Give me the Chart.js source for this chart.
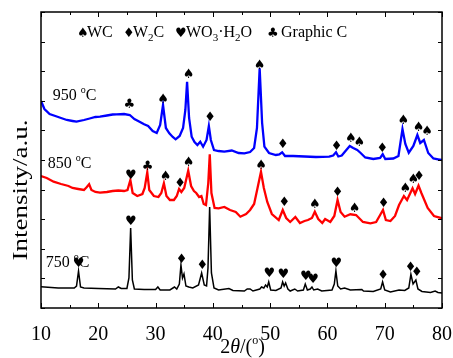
<!DOCTYPE html>
<html lang="en">
<head>
<meta charset="UTF-8">
<title>XRD patterns</title>
<script src="https://cdn.jsdelivr.net/npm/chart.js"></script>
<style>
  html, body { margin: 0; padding: 0; background: #fff; }
  canvas { display: block; }
</style>
</head>
<body>
<canvas id="xrd" width="453" height="358"></canvas>
<script>
// 2θ positions (deg) and stacked intensities (a.u.) for each calcination temperature
const theta750 = [10, 13, 15.8, 16.2, 16.55, 16.9, 17.5, 20, 23, 23.5, 24, 25, 25.35, 25.65, 25.95, 26.3, 28, 30, 30.4, 30.8,
  32.5, 33.3, 33.7, 34.15, 34.43, 34.7, 34.96, 35.3, 35.8, 36.5, 37.5, 38.04, 38.5, 38.9, 39.15, 39.44, 39.75, 40.2, 41, 42.8,
  43.5, 45.5, 46, 46.5, 47, 48.2, 48.5, 48.9, 49.2, 49.5, 49.75, 50.1, 51, 51.9, 52.18, 52.45, 52.7, 53.1, 53.5, 54.3,
  54.8, 55.8, 56.13, 56.5, 57, 57.3, 57.6, 58.3, 59, 60.8, 61.2, 61.48, 61.8, 62.3, 63, 64, 66, 66.3, 68, 69.3,
  69.63, 70, 71, 72.5, 73.5, 74.2, 74.57, 74.95, 75.44, 75.8, 76.5, 78, 78.8, 79.3, 80];
const int750 = [21.3, 20, 20, 22, 37, 21, 20, 19.5, 19, 21, 19.5, 19.5, 30, 80, 28, 19, 18.5, 18.5, 21, 18,
  18, 21, 19, 24, 43, 30, 34, 22, 21, 20, 23, 35, 23, 22, 40, 101, 35, 20, 18, 19.5,
  17.5, 17, 19, 19, 17, 19, 21, 20, 23, 21, 26, 18, 17.5, 20, 26, 22, 25, 19, 17, 19,
  17, 18, 24, 18, 19, 21, 18, 19, 17, 18, 24, 37, 22, 19, 20, 18, 18.5, 17, 16.5, 19,
  26, 18, 16, 18, 17.5, 20, 33.7, 24, 28, 19, 16.5, 15.5, 17, 15.5, 15];

const theta850 = [10, 11, 12.2, 13.5, 14.8, 15.5, 16.5, 17.5, 18, 18.4, 18.8, 19.5, 20.3, 21.5, 22.5, 23.5, 24.5, 25.1, 25.6, 26,
  26.8, 27.7, 28.1, 28.55, 28.9, 29.7, 30.5, 31, 31.45, 31.9, 32.5, 33.2, 33.7, 34.1, 34.5, 35, 35.7, 36.2, 36.7, 37.1,
  37.6, 38, 38.4, 38.8, 39.2, 39.46, 39.75, 40.3, 41, 42, 43, 44, 44.8, 45.8, 46.5, 47.2, 47.8, 48.4, 48.9, 49.5,
  50.3, 51.5, 52.2, 52.8, 53.5, 54.4, 55.2, 56, 56.6, 57.3, 57.8, 58.4, 59.1, 59.6, 60.5, 61.2, 61.77, 62.3, 63, 64,
  65, 66.2, 67.5, 68.5, 69.2, 69.7, 70.2, 71, 71.8, 72.5, 73.35, 73.9, 74.86, 75.3, 75.9, 76.4, 77.5, 78.6, 80];
const int850 = [132, 130, 126.3, 124, 122, 120, 119, 118, 121, 123.7, 118, 116, 115.3, 116, 117, 117.5, 117, 118, 128, 115,
  112, 114, 120, 135.7, 118, 112, 111, 115, 124.7, 112, 108, 108, 112, 119, 116, 120, 137.3, 122, 117, 115,
  111, 112, 104, 103, 125, 153.7, 115, 100, 99.7, 101, 98, 96, 91.3, 94, 98, 104, 120, 136.3, 120, 106,
  94, 88, 98, 90, 86, 91, 85, 87, 88, 90, 96.3, 89, 85, 89, 86, 92, 108, 96, 91.3, 93.7,
  93, 86, 84.7, 86, 93, 98, 88, 87, 92, 103, 112, 108, 119.7, 114, 122.3, 115, 100, 92, 89.7];

const theta950 = [10, 10.6, 11.5, 12.5, 13.5, 14.5, 15.5, 16.2, 17.5, 18.5, 19.5, 20.3, 21.5, 22.5, 23.2, 24.5, 25.5, 26.3, 27.2, 28,
  28.7, 29.5, 30.2, 30.8, 31.3, 31.8, 32.4, 33, 33.5, 34.2, 34.8, 35.2, 35.5, 35.85, 36.3, 36.8, 37.3, 37.8, 38.3, 38.9,
  39.3, 39.65, 40.2, 41, 42, 43.3, 44.5, 45.5, 46.5, 47.2, 47.7, 48.17, 48.6, 49, 49.8, 51, 51.6, 52.1, 52.6, 54,
  56, 58, 60.3, 61, 61.5, 61.9, 62.5, 63.3, 63.9, 64.5, 65.2, 65.8, 66.6, 68, 69.2, 69.65, 70.1, 71.5, 72.4, 73.1,
  73.6, 74.2, 75, 75.7, 76.2, 76.84, 77.6, 78.5, 79.3, 80];
const int950 = [207, 199, 194, 192, 190, 188, 187, 186.3, 188, 189.5, 191, 191.3, 192.5, 193.5, 193.7, 194, 193, 189, 186.3, 183.7,
  182, 177, 175, 183, 203, 180, 174.7, 171, 168.7, 172, 180, 198, 226.3, 190, 171.3, 166, 163, 166.3, 161.3, 168,
  182, 168, 158, 157, 156.3, 157.5, 155, 154.7, 156, 160, 180, 239.7, 185, 161.3, 155, 153, 153.5, 155.7, 152, 152,
  151.5, 151, 151.3, 152.5, 155.7, 151.5, 152.5, 158, 162, 160, 158, 155, 150.5, 149, 150, 153.7, 149, 149.5, 152, 179,
  164, 155.3, 162, 173, 165, 168, 155, 149.5, 148.7, 148];

// phase markers above the reflections: ♠ WC, ♦ W2C, ♥ WO3·H2O, ♣ graphitic carbon
const markTheta = [25.4, 31.3, 35.77, 39.5, 48.17, 52.2, 61.6, 64.1, 65.55, 69.6, 73.23, 75.9, 77.4,
  25.7, 28.6, 31.76, 34.26, 35.77, 48.4, 52.46, 57.8, 61.77, 64.74, 69.8, 73.6, 74.98, 76.0,
  16.58, 25.7, 34.55, 38.15, 49.85, 52.3, 56.25, 57.5, 61.55, 69.7, 74.5, 75.6];
const markInt = [203, 208.7, 233, 190.3, 242, 163, 161.3, 169, 165.7, 159, 187, 180.7, 176.3,
  132, 141.3, 131.3, 124, 145.7, 142, 105.7, 103, 115.3, 99.7, 104, 119, 128.7, 131.3,
  44.7, 86.3, 48.7, 42, 34, 33, 31.3, 28, 44, 32, 40.3, 35.7];
const markSym = ['♣', '♠', '♠', '♦', '♠', '♦', '♦', '♠', '♠', '♦', '♠', '♠', '♠',
  '♥', '♣', '♠', '♦', '♠', '♠', '♦', '♠', '♦', '♠', '♦', '♠', '♠', '♦',
  '♥', '♥', '♦', '♦', '♥', '♥', '♥', '♥', '♥', '♦', '♦', '♦'];

const SERIF = "'Liberation Serif', 'Times New Roman', serif";
const SYM = "'DejaVu Sans', sans-serif";

function pts(xs, ys) {
  return xs.map((x, i) => ({ x: x, y: ys[i] }));
}

// draw a row of text pieces one after another; each piece may change size/offset
function runs(ctx, x, y, parts) {
  let cx = x;
  parts.forEach(p => {
    ctx.font = p.font;
    ctx.fillText(p.t, cx, y + (p.dy || 0));
    cx += ctx.measureText(p.t).width;
  });
  return cx;
}
function runsWidth(ctx, parts) {
  let w = 0;
  parts.forEach(p => { ctx.font = p.font; w += ctx.measureText(p.t).width; });
  return w;
}

const decor = {
  id: 'decor',
  afterDatasetsDraw(chart) {
    const { ctx, scales: { x, y } } = chart;
    ctx.save();
    ctx.fillStyle = '#000';
    ctx.textAlign = 'center';
    ctx.textBaseline = 'middle';
    ctx.font = '13px ' + SYM;
    markTheta.forEach((t, i) => {
      ctx.fillText(markSym[i], x.getPixelForValue(t), y.getPixelForValue(markInt[i]));
    });
    ctx.restore();
  },
  afterDraw(chart) {
    const { ctx, chartArea: a, scales: { x, y } } = chart;
    ctx.save();
    ctx.strokeStyle = '#000';
    ctx.lineWidth = 1.5;
    ctx.strokeRect(a.left, a.top, a.right - a.left, a.bottom - a.top);

    // inward tick marks on all four sides
    ctx.lineWidth = 1;
    ctx.beginPath();
    for (let v = 10; v <= 80; v += 5) {
      const px = Math.round(x.getPixelForValue(v)) + 0.5;
      const len = v % 10 === 0 ? 5 : 3;
      ctx.moveTo(px, a.bottom); ctx.lineTo(px, a.bottom - len);
      ctx.moveTo(px, a.top); ctx.lineTo(px, a.top + len);
    }
    y.ticks.forEach(t => {
      const py = Math.round(y.getPixelForValue(t.value)) + 0.5;
      ctx.moveTo(a.left, py); ctx.lineTo(a.left + 4, py);
      ctx.moveTo(a.right, py); ctx.lineTo(a.right - 4, py);
    });
    ctx.stroke();

    ctx.fillStyle = '#000';
    ctx.textAlign = 'left';
    ctx.textBaseline = 'alphabetic';
    const f16 = '16px ' + SERIF, f11 = '11px ' + SERIF, s13 = '13px ' + SYM;

    // phase key
    runs(ctx, 77, 36.5, [{ t: '♠', font: s13 }]);
    runs(ctx, 87, 36.5, [{ t: 'WC', font: f16 }]);
    runs(ctx, 123, 36.5, [{ t: '♦', font: s13 }]);
    runs(ctx, 133, 36.5, [{ t: 'W', font: f16 }, { t: '2', font: f11, dy: 4 }, { t: 'C', font: f16 }]);
    runs(ctx, 175, 36.5, [{ t: '♥', font: s13 }]);
    runs(ctx, 186, 36.5, [{ t: 'WO', font: f16 }, { t: '3', font: f11, dy: 4 }, { t: '·H', font: f16 },
      { t: '2', font: f11, dy: 4 }, { t: 'O', font: f16 }]);
    runs(ctx, 267, 36.5, [{ t: '♣', font: s13 }]);
    runs(ctx, 281, 36.5, [{ t: 'Graphic C', font: f16 }]);

    // temperature labels
    const temp = (label, lx, ly) => runs(ctx, lx, ly, [{ t: label + ' ', font: f16 },
      { t: 'o', font: '10px ' + SERIF, dy: -7 }, { t: 'C', font: f16 }]);
    temp('950', 52.7, 100);
    temp('850', 47.7, 167.7);
    temp('750', 45.7, 266.7);

    // x axis title 2θ/(°)
    const f20 = '20px ' + SERIF;
    const xt = [{ t: '2', font: f20 }, { t: 'θ', font: 'italic 20px ' + SERIF }, { t: '/(', font: f20 },
      { t: 'o', font: '12px ' + SERIF, dy: -9 }, { t: ')', font: f20 }];
    runs(ctx, 242.5 - runsWidth(ctx, xt) / 2, 353, xt);

    // y axis title
    ctx.translate(26.7, 190);
    ctx.rotate(-Math.PI / 2);
    ctx.scale(1.35, 1);
    ctx.font = f20;
    ctx.textAlign = 'center';
    ctx.fillText('Intensity/a.u.', 0, 0);
    ctx.restore();
  }
};

new Chart(document.getElementById('xrd'), {
  type: 'line',
  data: {
    datasets: [
      { label: '950 °C', data: pts(theta950, int950), borderColor: '#0000ff', borderWidth: 2.3 },
      { label: '850 °C', data: pts(theta850, int850), borderColor: '#ff0000', borderWidth: 2.3 },
      { label: '750 °C', data: pts(theta750, int750), borderColor: '#000000', borderWidth: 1.5 }
    ]
  },
  options: {
    responsive: false,
    animation: false,
    events: [],
    elements: { point: { radius: 0 }, line: { tension: 0, fill: false } },
    layout: { padding: { top: 12, right: 11, left: 0, bottom: 0 } },
    plugins: { legend: { display: false }, tooltip: { enabled: false } },
    scales: {
      x: {
        type: 'linear', min: 10, max: 80,
        grid: { display: false }, border: { display: false },
        ticks: { stepSize: 10, color: '#000', padding: 7, maxRotation: 0, font: { family: SERIF, size: 20 } },
        afterFit: s => { s.height = 50; s.paddingLeft = 0; s.paddingRight = 0; }
      },
      y: {
        min: 0, max: 296,
        grid: { display: false }, border: { display: false },
        ticks: { display: false },
        afterBuildTicks: s => { s.ticks = Array.from({ length: 11 }, (_, i) => ({ value: i * 29.6 })); },
        afterFit: s => { s.width = 41; }
      }
    }
  },
  plugins: [decor]
});
</script>
</body>
</html>
